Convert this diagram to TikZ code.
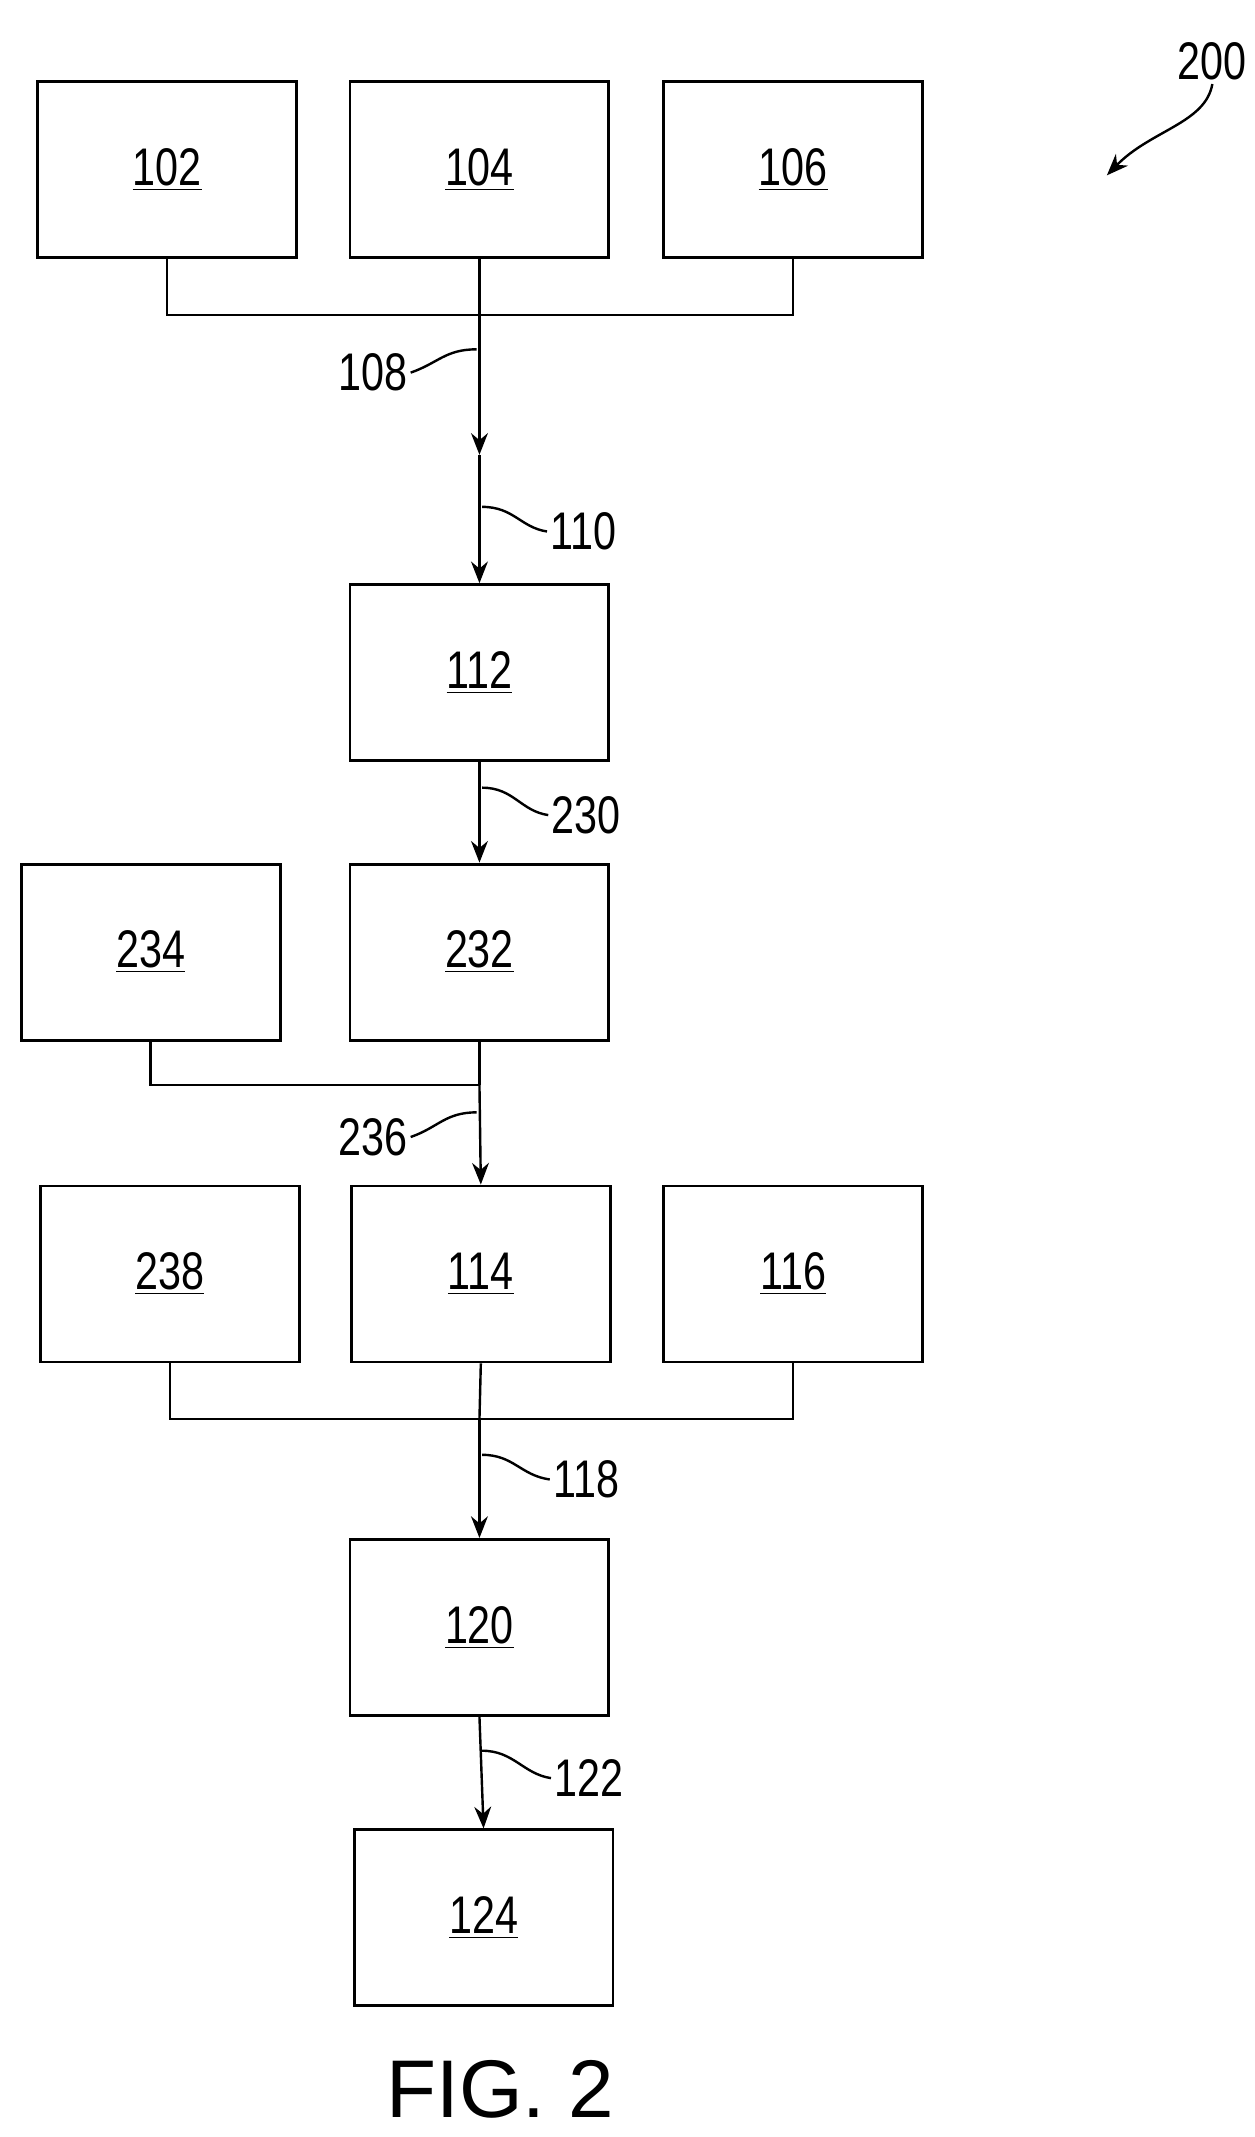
\documentclass[tikz,border=0pt]{standalone}
\usepackage{fontspec}
\setmainfont{Liberation Sans}[FakeStretch=0.78]
\newfontfamily\figfont{Liberation Sans}
\usetikzlibrary{arrows.meta,positioning}

\begin{document}
\begin{tikzpicture}[x=0.02cm, y=-0.02cm, >={Stealth[length=9pt,width=7pt]}, line width=1pt,
    blockbox/.style={rectangle, draw=black, line width=1.2pt, minimum width=3.78cm, minimum height=2.57cm, inner sep=0pt, font=\fontsize{22}{24}\selectfont},
    reflabel/.style={font=\fontsize{22}{24}\selectfont, inner sep=1pt}]
    \useasboundingbox (0,0) rectangle (916,1560);
    % Define blocks
    \node [blockbox] (b102) at (122,124) {\underline{102}};
    \node [blockbox] (b104) at (350,124) {\underline{104}};
    \node [blockbox] (b106) at (579,124) {\underline{106}};
    \node [blockbox] (b112) at (350,491) {\underline{112}};
    \node [blockbox] (b234) at (110,695) {\underline{234}};
    \node [blockbox] (b232) at (350,695) {\underline{232}};
    \node [blockbox] (b238) at (124,930) {\underline{238}};
    \node [blockbox] (b114) at (351,930) {\underline{114}};
    \node [blockbox] (b116) at (579,930) {\underline{116}};
    \node [blockbox] (b120) at (350,1188) {\underline{120}};
    \node [blockbox] (b124) at (353,1400) {\underline{124}};

    % Junction points
    \coordinate (j1) at (350,230);
    \coordinate (m1) at (350,332);
    \coordinate (j2) at (350,792);
    \coordinate (j3) at (350,1036);

    % Define connectors
    \draw (b102.south) |- (j1) -| (b106.south);
    \draw (b104.south) -- (j1);
    \draw[->] (j1) -- (m1);
    \draw[->] (m1) -- (b112.north);
    \draw[->] (b112.south) -- (b232.north);
    \draw (b234.south) |- (j2);
    \draw (b232.south) -- (j2);
    \draw[->] (j2) -- (b114.north);
    \draw (b238.south) |- (j3) -| (b116.south);
    \draw (b114.south) -- (j3);
    \draw[->] (j3) -- (b120.north);
    \draw[->] (b120.south) -- (b124.north);

    % Reference labels
    \node[reflabel] (l108) at (272,272) {108};
    \draw (l108.east) .. controls (320,265) and (325,255) .. (348,255);
    \node[reflabel] (l110) at (426,388) {110};
    \draw (l110.west) .. controls (380,385) and (375,370) .. (352,370);
    \node[reflabel] (l230) at (428,595) {230};
    \draw (l230.west) .. controls (380,592) and (375,575) .. (352,575);
    \node[reflabel] (l236) at (272,830) {236};
    \draw (l236.east) .. controls (320,823) and (325,812) .. (348,812);
    \node[reflabel] (l118) at (428,1080) {118};
    \draw (l118.west) .. controls (380,1077) and (375,1062) .. (352,1062);
    \node[reflabel] (l122) at (430,1298) {122};
    \draw (l122.west) .. controls (382,1295) and (375,1278) .. (352,1278);

    % Figure number
    \node[reflabel] (l200) at (885,45) {200};
    \coordinate (t200) at (808,128);
    \draw[->] (l200.south) .. controls (880,90) and (840,95) .. (t200);
    \node[font=\figfont\fontsize{34}{36}\selectfont] (fig) at (365,1525) {FIG. 2};
\end{tikzpicture}
\end{document}
